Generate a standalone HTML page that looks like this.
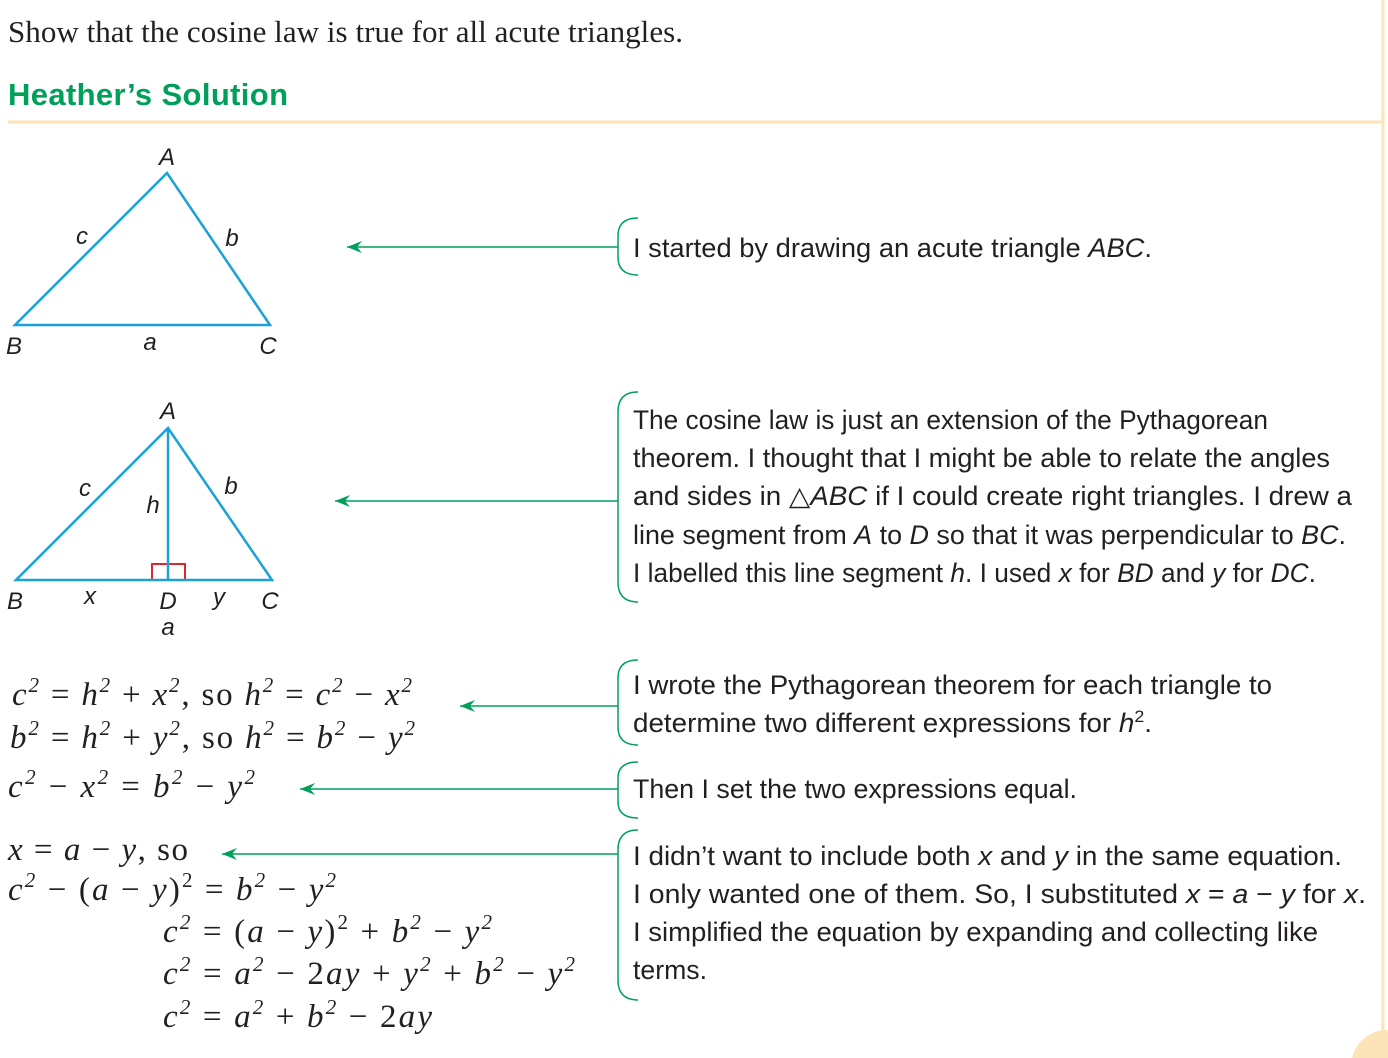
<!DOCTYPE html>
<html><head><meta charset="utf-8"><style>
html,body{margin:0;padding:0;background:#fff;overflow:hidden;width:1388px;height:1058px;}
svg{display:block;}
.t{font-family:"Liberation Sans",sans-serif;font-size:26.5px;fill:#231f20;}
.s{font-family:"Liberation Serif",serif;font-size:31px;fill:#231f20;}
.m{font-family:"Liberation Serif",serif;font-size:33px;fill:#231f20;font-style:italic;}
.lb{font-family:"Liberation Sans",sans-serif;font-size:24px;font-style:italic;fill:#231f20;text-anchor:middle;}
.up{font-size:21px;}
.n{font-style:normal;}
</style></head><body>
<svg width="1388" height="1058" viewBox="0 0 1388 1058" xmlns="http://www.w3.org/2000/svg">
<defs><marker id="ar" markerWidth="16" markerHeight="12" refX="15" refY="6" orient="auto" markerUnits="userSpaceOnUse"><path d="M15,6 L0,0 L5,6 L0,12 Z" fill="#00a05a"/></marker></defs>
<line x1="8" y1="122" x2="1383" y2="122" stroke="#fde3b8" stroke-width="3"/>
<line x1="1383" y1="0" x2="1383" y2="1040" stroke="#fde3b8" stroke-width="3"/>
<path d="M1352,1058 A36,36 0 0 1 1388,1030 L1388,1058 Z" fill="#fde3b8"/>
<text x="8" y="42" class="s" textLength="675">Show that the cosine law is true for all acute triangles.</text>
<text x="8" y="105" font-family="Liberation Sans,sans-serif" font-weight="bold" font-size="31" fill="#00a05a" textLength="280">Heather’s Solution</text>

<polygon points="167,173 15,325 270,325" fill="none" stroke="#1ba1d8" stroke-width="2.5"/>
<text x="167" y="165" class="lb">A</text><text x="82" y="244" class="lb">c</text><text x="232" y="246" class="lb">b</text>
<text x="14" y="354" class="lb">B</text><text x="150" y="350" class="lb">a</text><text x="268" y="354" class="lb">C</text>

<rect x="152" y="564" width="33" height="16" fill="none" stroke="#e0262d" stroke-width="2"/>
<polygon points="168,428 16,580 272,580" fill="none" stroke="#1ba1d8" stroke-width="2.5"/>
<line x1="168" y1="428" x2="168" y2="580" stroke="#1ba1d8" stroke-width="2.5"/>
<text x="168" y="419" class="lb">A</text><text x="85" y="496" class="lb">c</text><text x="153" y="513" class="lb">h</text><text x="231" y="494" class="lb">b</text>
<text x="15" y="609" class="lb">B</text><text x="90" y="604" class="lb">x</text><text x="168" y="609" class="lb">D</text><text x="219" y="605" class="lb">y</text><text x="270" y="609" class="lb">C</text><text x="168" y="635" class="lb">a</text>

<g stroke="#00a05a" stroke-width="1.5" fill="none">
<line x1="618" y1="247" x2="347" y2="247" marker-end="url(#ar)"/>
<path d="M638,218 Q618,218 618,236 L618,257 Q618,275 638,275"/>
<line x1="618" y1="501" x2="335" y2="501" marker-end="url(#ar)"/>
<path d="M638,392 Q618,392 618,412 L618,582 Q618,602 638,602"/>
<line x1="618" y1="706" x2="460" y2="706" marker-end="url(#ar)"/>
<path d="M638,660 Q618,660 618,678 L618,727 Q618,745 638,745"/>
<line x1="618" y1="789" x2="300" y2="789" marker-end="url(#ar)"/>
<path d="M638,762 Q618,762 618,778 L618,802 Q618,818 638,818"/>
<line x1="618" y1="854" x2="222" y2="854" marker-end="url(#ar)"/>
<path d="M638,830 Q618,830 618,850 L618,980 Q618,1000 638,1000"/>
</g>

<text x="633" y="257" class="t" textLength="519" lengthAdjust="spacingAndGlyphs">I started by drawing an acute triangle <tspan font-style="italic">ABC</tspan>.</text>
<text x="633" y="429" class="t" textLength="635" lengthAdjust="spacingAndGlyphs">The cosine law is just an extension of the Pythagorean</text>
<text x="633" y="467" class="t" textLength="697" lengthAdjust="spacingAndGlyphs">theorem. I thought that I might be able to relate the angles</text>
<text x="633" y="505" class="t" textLength="719" lengthAdjust="spacingAndGlyphs">and sides in △<tspan font-style="italic">ABC</tspan> if I could create right triangles. I drew a</text>
<text x="633" y="544" class="t" textLength="713" lengthAdjust="spacingAndGlyphs">line segment from <tspan font-style="italic">A</tspan> to <tspan font-style="italic">D</tspan> so that it was perpendicular to <tspan font-style="italic">BC</tspan>.</text>
<text x="633" y="582" class="t" textLength="683" lengthAdjust="spacingAndGlyphs">I labelled this line segment <tspan font-style="italic">h</tspan>. I used <tspan font-style="italic">x</tspan> for <tspan font-style="italic">BD</tspan> and <tspan font-style="italic">y</tspan> for <tspan font-style="italic">DC</tspan>.</text>
<text x="633" y="694" class="t" textLength="639" lengthAdjust="spacingAndGlyphs">I wrote the Pythagorean theorem for each triangle to</text>
<text x="633" y="732" class="t" textLength="519" lengthAdjust="spacingAndGlyphs">determine two different expressions for <tspan font-style="italic">h</tspan><tspan dy="-10" font-size="17">2</tspan><tspan dy="10">.</tspan></text>
<text x="633" y="798" class="t" textLength="444" lengthAdjust="spacingAndGlyphs">Then I set the two expressions equal.</text>
<text x="633" y="865" class="t" textLength="709" lengthAdjust="spacingAndGlyphs">I didn’t want to include both <tspan font-style="italic">x</tspan> and <tspan font-style="italic">y</tspan> in the same equation.</text>
<text x="633" y="903" class="t" textLength="733" lengthAdjust="spacingAndGlyphs">I only wanted one of them. So, I substituted <tspan font-style="italic">x</tspan> = <tspan font-style="italic">a</tspan> − <tspan font-style="italic">y</tspan> for <tspan font-style="italic">x</tspan>.</text>
<text x="633" y="941" class="t" textLength="685" lengthAdjust="spacingAndGlyphs">I simplified the equation by expanding and collecting like</text>
<text x="633" y="979" class="t" textLength="74" lengthAdjust="spacingAndGlyphs">terms.</text>

<text x="12" y="705" class="m" textLength="400">c<tspan class="up" dy="-13">2</tspan><tspan dy="13" class="n"> = </tspan>h<tspan class="up" dy="-13">2</tspan><tspan dy="13" class="n"> + </tspan>x<tspan class="up" dy="-13">2</tspan><tspan dy="13" class="n">, so </tspan>h<tspan class="up" dy="-13">2</tspan><tspan dy="13" class="n"> = </tspan>c<tspan class="up" dy="-13">2</tspan><tspan dy="13" class="n"> − </tspan>x<tspan class="up" dy="-13">2</tspan></text>
<text x="10" y="748" class="m" textLength="405">b<tspan class="up" dy="-13">2</tspan><tspan dy="13" class="n"> = </tspan>h<tspan class="up" dy="-13">2</tspan><tspan dy="13" class="n"> + </tspan>y<tspan class="up" dy="-13">2</tspan><tspan dy="13" class="n">, so </tspan>h<tspan class="up" dy="-13">2</tspan><tspan dy="13" class="n"> = </tspan>b<tspan class="up" dy="-13">2</tspan><tspan dy="13" class="n"> − </tspan>y<tspan class="up" dy="-13">2</tspan></text>
<text x="8" y="797" class="m" textLength="247">c<tspan class="up" dy="-13">2</tspan><tspan dy="13" class="n"> − </tspan>x<tspan class="up" dy="-13">2</tspan><tspan dy="13" class="n"> = </tspan>b<tspan class="up" dy="-13">2</tspan><tspan dy="13" class="n"> − </tspan>y<tspan class="up" dy="-13">2</tspan></text>
<text x="8" y="860" class="m" textLength="180">x<tspan class="n"> = </tspan>a<tspan class="n"> − </tspan>y<tspan class="n">, so</tspan></text>
<text x="8" y="900" class="m" textLength="328">c<tspan class="up" dy="-13">2</tspan><tspan dy="13" class="n"> − (</tspan>a<tspan class="n"> − </tspan>y<tspan class="n">)</tspan><tspan class="up n" dy="-13">2</tspan><tspan dy="13" class="n"> = </tspan>b<tspan class="up" dy="-13">2</tspan><tspan dy="13" class="n"> − </tspan>y<tspan class="up" dy="-13">2</tspan></text>
<text x="163" y="942" class="m" textLength="329">c<tspan class="up" dy="-13">2</tspan><tspan dy="13" class="n"> = (</tspan>a<tspan class="n"> − </tspan>y<tspan class="n">)</tspan><tspan class="up n" dy="-13">2</tspan><tspan dy="13" class="n"> + </tspan>b<tspan class="up" dy="-13">2</tspan><tspan dy="13" class="n"> − </tspan>y<tspan class="up" dy="-13">2</tspan></text>
<text x="163" y="984" class="m" textLength="412">c<tspan class="up" dy="-13">2</tspan><tspan dy="13" class="n"> = </tspan>a<tspan class="up" dy="-13">2</tspan><tspan dy="13" class="n"> − 2</tspan>ay<tspan class="n"> + </tspan>y<tspan class="up" dy="-13">2</tspan><tspan dy="13" class="n"> + </tspan>b<tspan class="up" dy="-13">2</tspan><tspan dy="13" class="n"> − </tspan>y<tspan class="up" dy="-13">2</tspan></text>
<text x="163" y="1027" class="m" textLength="269">c<tspan class="up" dy="-13">2</tspan><tspan dy="13" class="n"> = </tspan>a<tspan class="up" dy="-13">2</tspan><tspan dy="13" class="n"> + </tspan>b<tspan class="up" dy="-13">2</tspan><tspan dy="13" class="n"> − 2</tspan>ay</text>
</svg>
</body></html>
